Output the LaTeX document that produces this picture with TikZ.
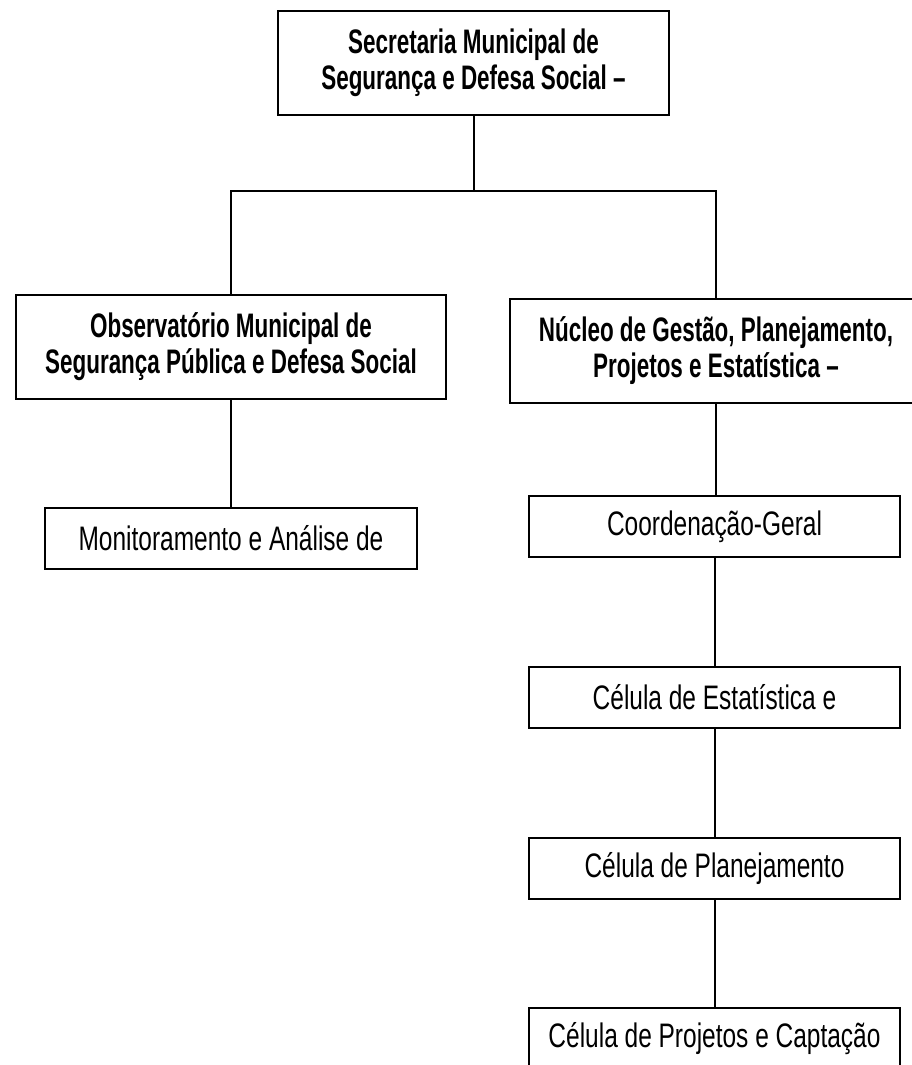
\documentclass[tikz,border=0pt]{standalone}
\usepackage{fontspec}
\newfontfamily\orgfont{Liberation Sans}[FakeStretch=0.66]
\newfontfamily\unitfont{Liberation Sans}[FakeStretch=0.72]
\usetikzlibrary{calc}

\begin{document}
\begin{tikzpicture}
      [x = 1pt, y = -1pt,
      line width = 2pt,
      head/.style= {
         draw,
         rectangle,
         inner sep = 0pt,
         minimum height = 104pt,
         align = center,
         font = \orgfont\bfseries\fontsize{34}{36}\selectfont
      },
      unit/.style= {
         draw,
         rectangle,
         inner sep = 0pt,
         minimum width = 371pt,
         minimum height = 61pt,
         align = center,
         font = \unitfont\fontsize{34}{36}\selectfont
      }]

      \useasboundingbox (0, 0) rectangle (911, 1065);

      \node[head, minimum width = 391pt] (sec) at (473.5, 63)
         {Secretaria Municipal de\\Segurança e Defesa Social –};
      \node[head, minimum width = 430pt] (obs) at (231, 347)
         {Observatório Municipal de\\Segurança Pública e Defesa Social};
      \node[head, minimum width = 412pt] (nuc) at (716, 351)
         {Núcleo de Gestão, Planejamento,\\Projetos e Estatística –};

      \node[unit, minimum width = 372pt] (mon) at (231, 538) {Monitoramento e Análise de};
      \node[unit] (coord) at (714.5, 526.5) {Coordenação-Geral};
      \node[unit] (est) at (714.5, 697) {Célula de Estatística e};
      \node[unit] (plan) at (714.5, 868.5) {Célula de Planejamento};
      \node[unit] (proj) at (714.5, 1038.5) {Célula de Projetos e Captação};

      \coordinate (split) at (474, 191);

      \draw (sec.south -| split) -- (split);
      \draw (obs.north) -- (obs.north |- split) -- (nuc.north |- split) -- (nuc.north);
      \draw (obs.south) -- (mon.north -| obs.south);
      \draw (nuc.south) -- (coord.north -| nuc.south);
      \draw (coord) ++(0, 30.5) -- (est.north -| coord);
      \draw (est.south) -- (plan.north);
      \draw (plan.south) -- (proj.north);

   \end{tikzpicture}
\end{document}
